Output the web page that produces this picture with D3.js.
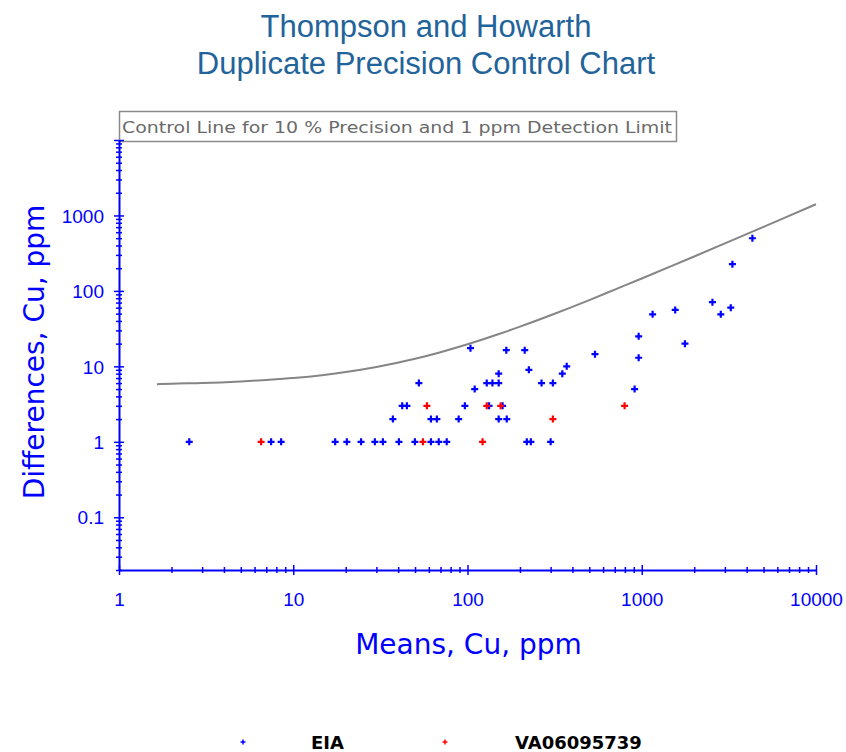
<!DOCTYPE html>
<html>
<head>
<meta charset="utf-8">
<script src="https://cdn.jsdelivr.net/npm/d3@7"></script>
<style>
  html, body { margin: 0; padding: 0; background: #ffffff; }
  svg { display: block; }
</style>
</head>
<body>
<div id="chart"></div>
<script>
// ---------- DATA ----------
const titleLines = ["Thompson and Howarth", "Duplicate Precision Control Chart"];
const controlLabel = "Control Line for 10 % Precision and 1 ppm Detection Limit";
const xTitle = "Means, Cu, ppm";
const yTitle = "Differences, Cu, ppm";
const seriesNames = ["EIA", "VA06095739"];

// Series 1: EIA (blue)
const eiaMeans = [2.53, 7.46, 8.52, 17.4, 20.3, 24.5, 29.4, 32.7, 40.4, 49.9, 61.7, 68.4, 76, 219, 231, 300,
                  37.3, 61.7, 66.7, 89, 151, 168,
                  42.2, 44.9, 96.6, 133, 159,
                  52.6, 110, 129, 139, 151, 266, 309, 151, 225, 350, 371, 104, 167, 213, 539,
                  910, 960, 960, 1154, 1556, 1770, 2545, 2842, 3243, 3313, 4315];
const eiaDiffs = [1, 1, 1, 1, 1, 1, 1, 1, 1, 1, 1, 1, 1, 1, 1, 1,
                  2, 2, 2, 2, 2, 2,
                  3, 3, 3, 3, 3,
                  6, 5, 6, 6, 6, 6, 6, 8, 9, 8, 10, 17.4, 16.4, 16.4, 14.5,
                  5, 13, 25, 49, 56, 20, 71, 49, 60, 226, 499];

// Series 2: VA06095739 (red)
const vaMeans = [6.54, 55.5, 122, 309, 58.5, 129, 155, 797];
const vaDiffs = [1, 1, 1, 2, 3, 3, 3, 3];

// Control line
const controlMeans = [1.65, 2, 3, 5, 7, 10, 15, 20, 30, 50, 70, 100, 150, 200, 300, 500, 700, 1000, 1500, 2000, 3000, 5000, 7000, 10000];
const controlDiffs = [5.8, 5.9, 6.0, 6.3, 6.6, 7.0, 7.7, 8.4, 9.8, 12.6, 15.4, 19.6, 26.6, 33.6, 47.6, 75.6, 104, 146, 216, 286, 426, 706, 986, 1406];

// Axis ticks
const xDomain = [1, 10000];
const yDomain = [0.02, 10000];
const xMajorTicks = [1, 10, 100, 1000, 10000];
const xTickLabels = ["1", "10", "100", "1000", "10000"];
const yMajorTicks = [0.1, 1, 10, 100, 1000];
const yTickLabels = ["0.1", "1", "10", "100", "1000"];

// ---------- LAYOUT ----------
const W = 846, H = 752;
const plot = { left: 119, right: 816, top: 140, bottom: 570 };
const axisBlue = "#0000ff";
const titleColor = "#22639a";

const svg = d3.select("#chart").append("svg").attr("width", W).attr("height", H);

const x = d3.scaleLog().domain(xDomain).range([plot.left, plot.right]);
const y = d3.scaleLog().domain(yDomain).range([plot.bottom, plot.top]);

// all ticks (minor multiples)
function logTicks(lo, hi) {
  const out = [];
  for (let e = Math.floor(Math.log10(lo)); e <= Math.ceil(Math.log10(hi)); e++) {
    for (let m = 1; m <= 9; m++) {
      const v = +(m * Math.pow(10, e)).toPrecision(6);
      if (v >= lo * 0.9999 && v <= hi * 1.0001) out.push(v);
    }
  }
  return out;
}
const isMajor = v => Math.abs(Math.log10(v) - Math.round(Math.log10(v))) < 1e-9;

// Title
svg.append("g").selectAll("text").data(titleLines).join("text")
  .attr("x", 426).attr("y", (d, i) => 37 + i * 36.5)
  .attr("text-anchor", "middle")
  .attr("font-family", "'Liberation Sans', Arial, sans-serif")
  .attr("font-size", 31)
  .attr("fill", titleColor)
  .text(d => d);

// Control line label box
svg.append("rect")
  .attr("x", 119.5).attr("y", 111.5).attr("width", 557).attr("height", 30)
  .attr("fill", "#ffffff").attr("stroke", "#8a8a8a").attr("stroke-width", 1.5);
svg.append("text")
  .attr("x", 122).attr("y", 133)
  .attr("font-family", "'DejaVu Sans', Verdana, sans-serif")
  .attr("font-size", 16)
  .attr("fill", "#6a6a6a")
  .attr("textLength", 550).attr("lengthAdjust", "spacingAndGlyphs")
  .text(controlLabel);

// X axis
const xAll = logTicks(xDomain[0], xDomain[1]);
const gx = svg.append("g").attr("transform", `translate(0,${plot.bottom})`)
  .call(d3.axisBottom(x).tickValues(xAll).tickSizeOuter(0)
    .tickFormat(d => { const i = xMajorTicks.indexOf(d); return i >= 0 ? xTickLabels[i] : ""; }));
gx.select(".domain").attr("stroke", axisBlue).attr("stroke-width", 2);
gx.selectAll(".tick line").attr("stroke", axisBlue).attr("stroke-width", 1.5)
  .attr("y1", d => isMajor(d) ? -5 : -3).attr("y2", d => isMajor(d) ? 5 : 3);
gx.selectAll(".tick text").attr("y", 36).attr("dy", 0)
  .attr("font-family", "'Liberation Sans', Arial, sans-serif")
  .attr("font-size", 19).attr("fill", axisBlue);

// Y axis
const yAll = logTicks(yDomain[0], yDomain[1]);
const gy = svg.append("g").attr("transform", `translate(${plot.left},0)`)
  .call(d3.axisLeft(y).tickValues(yAll).tickSizeOuter(0)
    .tickFormat(d => { const i = yMajorTicks.findIndex(t => Math.abs(t - d) < 1e-9); return i >= 0 ? yTickLabels[i] : ""; }));
gy.select(".domain").attr("stroke", axisBlue).attr("stroke-width", 2);
gy.selectAll(".tick line").attr("stroke", axisBlue).attr("stroke-width", 1.5)
  .attr("x1", d => isMajor(d) ? -5 : -3).attr("x2", d => isMajor(d) ? 5 : 3);
gy.selectAll(".tick text").attr("x", -15).attr("dy", "0.35em")
  .attr("font-family", "'Liberation Sans', Arial, sans-serif")
  .attr("font-size", 19).attr("fill", axisBlue);

// Axis titles
svg.append("text")
  .attr("x", (plot.left + plot.right) / 2 + 1).attr("y", 654)
  .attr("text-anchor", "middle")
  .attr("font-family", "'DejaVu Sans', Verdana, sans-serif")
  .attr("font-size", 28).attr("fill", axisBlue)
  .text(xTitle);
svg.append("text")
  .attr("transform", "translate(44,352) rotate(-90)")
  .attr("text-anchor", "middle")
  .attr("font-family", "'DejaVu Sans', Verdana, sans-serif")
  .attr("font-size", 28).attr("fill", axisBlue)
  .text(yTitle);

// Control line
const controlData = controlMeans.map((m, i) => ({ m, d: controlDiffs[i] }));
svg.append("path").datum(controlData)
  .attr("fill", "none").attr("stroke", "#858585").attr("stroke-width", 2)
  .attr("d", d3.line().x(p => x(p.m)).y(p => y(p.d)).curve(d3.curveMonotoneX));

// Points
const plus = r => `M${-r},0H${r}M0,${-r}V${r}`;
const eia = eiaMeans.map((m, i) => ({ m, d: eiaDiffs[i] }));
const va = vaMeans.map((m, i) => ({ m, d: vaDiffs[i] }));
svg.append("g").selectAll("path").data(eia).join("path")
  .attr("transform", p => `translate(${x(p.m)},${y(p.d)})`)
  .attr("d", plus(3.5)).attr("stroke", "#0000ff").attr("stroke-width", 2.2).attr("fill", "none");
svg.append("g").selectAll("path").data(va).join("path")
  .attr("transform", p => `translate(${x(p.m)},${y(p.d)})`)
  .attr("d", plus(3.5)).attr("stroke", "#ff0000").attr("stroke-width", 2.2).attr("fill", "none");

// Legend
const legendItems = [
  { name: seriesNames[0], color: "#0000ff", mx: 243, tx: 311 },
  { name: seriesNames[1], color: "#ff0000", mx: 445, tx: 515 }
];
const lg = svg.append("g");
lg.selectAll("path").data(legendItems).join("path")
  .attr("transform", d => `translate(${d.mx},742)`)
  .attr("d", plus(2.5)).attr("stroke", d => d.color).attr("stroke-width", 1.5).attr("fill", "none");
lg.selectAll("text").data(legendItems).join("text")
  .attr("x", d => d.tx).attr("y", 749)
  .attr("font-family", "'DejaVu Sans', Verdana, sans-serif")
  .attr("font-weight", "bold").attr("font-size", 18).attr("fill", "#000000")
  .text(d => d.name);
</script>
</body>
</html>
